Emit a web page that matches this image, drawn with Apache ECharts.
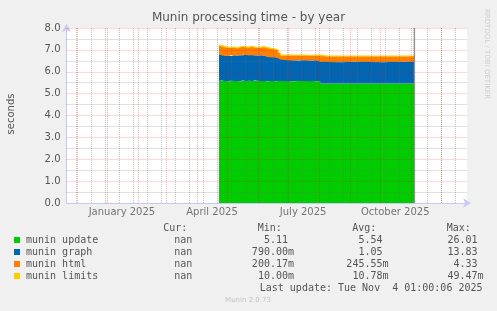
<!DOCTYPE html>
<html>
<head>
<meta charset="utf-8">
<script src="https://cdn.jsdelivr.net/npm/echarts@6/dist/echarts.min.js"></script>
<style>
html,body{margin:0;padding:0;background:#f0f0f0;}
#chart{width:497px;height:311px;}
</style>
</head>
<body>
<div id="chart"></div>
<script>
// ---- data ----
const dates = ['2025-04-23','2025-04-26','2025-04-29','2025-05-02','2025-05-05','2025-05-08','2025-05-11','2025-05-14','2025-05-17','2025-05-20','2025-05-23','2025-05-26','2025-05-29','2025-06-01','2025-06-04','2025-06-07','2025-06-10','2025-06-13','2025-06-16','2025-06-19','2025-06-21','2025-06-23','2025-06-30','2025-07-06','2025-07-12','2025-07-18','2025-07-24','2025-07-30','2025-08-02','2025-08-09','2025-08-16','2025-08-23','2025-08-30','2025-09-06','2025-09-13','2025-09-20','2025-09-27','2025-10-04','2025-10-11','2025-10-18','2025-10-25','2025-11-01','2025-11-04'];
const munin_update = [5.58,5.60,5.57,5.58,5.59,5.58,5.57,5.58,5.60,5.58,5.59,5.58,5.60,5.59,5.58,5.57,5.58,5.58,5.57,5.58,5.58,5.58,5.57,5.58,5.58,5.58,5.57,5.58,5.46,5.46,5.46,5.46,5.46,5.46,5.46,5.46,5.46,5.46,5.46,5.46,5.46,5.46,5.46];
const munin_graph  = [1.22,1.14,1.16,1.14,1.16,1.16,1.19,1.17,1.18,1.18,1.18,1.17,1.14,1.17,1.16,1.17,1.10,1.08,1.10,1.06,1.04,0.98,0.96,0.94,0.96,0.94,0.96,0.94,0.99,0.99,0.98,0.99,0.99,1.00,0.99,0.99,0.98,0.99,0.99,0.99,1.00,0.99,0.99];
const munin_html   = [0.39,0.40,0.38,0.37,0.38,0.33,0.36,0.40,0.35,0.35,0.39,0.37,0.35,0.35,0.40,0.37,0.39,0.39,0.35,0.35,0.25,0.19,0.22,0.23,0.21,0.22,0.22,0.23,0.26,0.26,0.27,0.26,0.26,0.25,0.26,0.26,0.27,0.26,0.26,0.26,0.25,0.26,0.26];
const munin_limits = [0.011,0.011,0.011,0.011,0.011,0.011,0.011,0.011,0.011,0.011,0.011,0.011,0.011,0.011,0.011,0.011,0.011,0.011,0.011,0.011,0.011,0.011,0.011,0.011,0.011,0.011,0.011,0.011,0.011,0.011,0.011,0.011,0.011,0.011,0.011,0.011,0.011,0.011,0.011,0.011,0.011,0.011,0.011];

const xMin = '2024-11-21T16:00:00';
const xMax = '2025-12-26T16:00:00';
const lastUpdateDate = '2025-11-04T01:00:00';
const monthStarts = ['2024-12-01','2025-01-01','2025-02-01','2025-03-01','2025-04-01','2025-05-01','2025-06-01','2025-07-01','2025-08-01','2025-09-01','2025-10-01','2025-11-01','2025-12-01'];
const biweekly = ['2024-12-02','2024-12-16','2024-12-30','2025-01-13','2025-01-27','2025-02-10','2025-02-24','2025-03-10','2025-03-24','2025-04-07','2025-04-21','2025-05-05','2025-05-19','2025-06-02','2025-06-16','2025-06-30','2025-07-14','2025-07-28','2025-08-11','2025-08-25','2025-09-08','2025-09-22','2025-10-06','2025-10-20','2025-11-03','2025-11-17','2025-12-01','2025-12-15'];
const xLabelDates = ['2025-01-16','2025-04-16','2025-07-16','2025-10-16'];
const xLabelTexts = ['January 2025','April 2025','July 2025','October 2025'];
const yMajor = [1,2,3,4,5,6,7,8];
const yMinor = [0.5,1.5,2.5,3.5,4.5,5.5,6.5,7.5];

const legendNames = ['munin update','munin graph','munin html','munin limits'];
const legendColors = ['#00cc00','#0066b3','#ff8000','#ffcc00'];
const legendCur = ['nan ','nan ','nan ','nan '];
const legendMin = ['5.11 ','790.00m','200.17m','10.00m'];
const legendAvg = ['5.54 ','1.05 ','245.55m','10.78m'];
const legendMax = ['26.01 ','13.83 ','4.33 ','49.47m'];
const legendHeaders = ['Cur:','Min:','Avg:','Max:'];

// ---- build ----
const t = s => new Date(s.length <= 10 ? s + 'T00:00:00' : s).getTime();
const pts = arr => dates.map((d, i) => [t(d), arr[i]]);

const chart = echarts.init(document.getElementById('chart'), null, {renderer: 'canvas'});

const gridFont = 'DejaVu Sans';
const mono = 'DejaVu Sans Mono';
const textCol = '#555';

function areaSeries(name, arr, color, extraLine) {
  return {
    name: name, type: 'line', stack: 'total', step: 'end',
    data: pts(arr), symbol: 'none', z: 2,
    lineStyle: extraLine ? {width: 1, color: color} : {width: 0},
    areaStyle: {color: color, opacity: 1},
    silent: true
  };
}

const graphic = [];
graphic.push({type: 'text', left: 'center', top: 12, style: {text: 'Munin processing time - by year', font: '12px ' + gridFont, fill: '#555'}});
graphic.push({type: 'text', x: 11, y: 114, rotation: Math.PI / 2, style: {text: 'seconds', font: '10px ' + gridFont, fill: '#555', align: 'center', verticalAlign: 'middle'}});
graphic.push({type: 'text', x: 487, y: 54, rotation: -Math.PI / 2, style: {text: 'RRDTOOL / TOBI OETIKER', font: '7px ' + gridFont, fill: '#cfcfcf', align: 'center', verticalAlign: 'middle'}});
const hdrX = [163.3, 257.7, 352.3, 446.7];
legendHeaders.forEach((h, i) => graphic.push({type: 'text', x: hdrX[i], y: 228.5, style: {text: h, font: '10px ' + mono, fill: textCol, align: 'left', verticalAlign: 'middle'}}));
const rowY = [240, 252, 264, 276];
const colR = [198.3, 294, 388.5, 483.5];
legendNames.forEach((n, i) => {
  graphic.push({type: 'rect', shape: {x: 14, y: rowY[i] - 3, width: 6, height: 6}, style: {fill: legendColors[i]}});
  graphic.push({type: 'text', x: 26, y: rowY[i], style: {text: n, font: '10px ' + mono, fill: textCol, align: 'left', verticalAlign: 'middle'}});
  [legendCur, legendMin, legendAvg, legendMax].forEach((col, j) => {
    graphic.push({type: 'text', x: colR[j], y: rowY[i], style: {text: col[i], font: '10px ' + mono, fill: textCol, align: 'right', verticalAlign: 'middle', whiteSpace: 'pre'}});
  });
});
graphic.push({type: 'text', x: 482.5, y: 288, style: {text: 'Last update: Tue Nov  4 01:00:06 2025', font: '10px ' + mono, fill: textCol, align: 'right', verticalAlign: 'middle'}});
graphic.push({type: 'text', x: 248, y: 300.5, style: {text: 'Munin 2.0.73', font: '7px ' + gridFont, fill: '#c4c4c4', align: 'center', verticalAlign: 'middle'}});

const redDot = {color: 'rgba(255,0,0,0.3)', type: [1, 1], width: 1};
const grayDot = {color: 'rgba(110,110,110,0.42)', type: [1, 1], width: 1};

const option = {
  animation: false,
  backgroundColor: '#f0f0f0',
  grid: {left: 66.5, right: 30, top: 28, bottom: 108, show: true, backgroundColor: '#ffffff', borderWidth: 0},
  xAxis: {
    type: 'time', min: t(xMin), max: t(xMax),
    axisLine: {show: true, lineStyle: {color: '#c8c8f4', width: 1}, symbol: ['none', 'arrow'], symbolSize: [7, 8], symbolOffset: [0, 4]},
    axisTick: {show: false}, axisLabel: {show: false}, splitLine: {show: false}
  },
  yAxis: {
    type: 'value', min: 0, max: 8, interval: 1,
    axisLine: {show: true, lineStyle: {color: '#c8c8f4', width: 1}, symbol: ['none', 'arrow'], symbolSize: [7, 8], symbolOffset: [0, 4]},
    axisTick: {show: false},
    axisLabel: {color: '#555', fontFamily: gridFont, fontSize: 10, margin: 6, formatter: v => v.toFixed(1)},
    splitLine: {show: false}
  },
  graphic: graphic,
  series: [
    areaSeries('munin update', munin_update, '#00cc00'),
    areaSeries('munin graph', munin_graph, '#0066b3'),
    areaSeries('munin html', munin_html, '#ff8000'),
    areaSeries('munin limits', munin_limits, '#ffcc00', true),
    {
      type: 'line', data: [], z: 5, silent: true,
      markLine: {
        silent: true, symbol: 'none', animation: false,
        label: {show: false},
        data: [].concat(
          yMinor.map(v => ({yAxis: v, lineStyle: grayDot})),
          biweekly.map(d => ({xAxis: t(d), lineStyle: grayDot})),
          yMajor.map(v => ({yAxis: v, lineStyle: redDot})),
          monthStarts.map(d => ({xAxis: t(d), lineStyle: redDot})),
          [{xAxis: t(lastUpdateDate), lineStyle: {color: '#909090', type: 'solid', width: 1.2}}]
        )
      }
    },
    {
      type: 'scatter', silent: true, z: 6, symbolSize: 1, clip: false,
      itemStyle: {color: 'rgba(0,0,0,0)'},
      data: xLabelDates.map((d, i) => ({value: [t(d), 0], name: xLabelTexts[i]})),
      label: {show: true, position: 'bottom', distance: 4, formatter: p => p.name, color: '#555', fontFamily: gridFont, fontSize: 10}
    }
  ]
};
chart.setOption(option);
</script>
</body>
</html>
